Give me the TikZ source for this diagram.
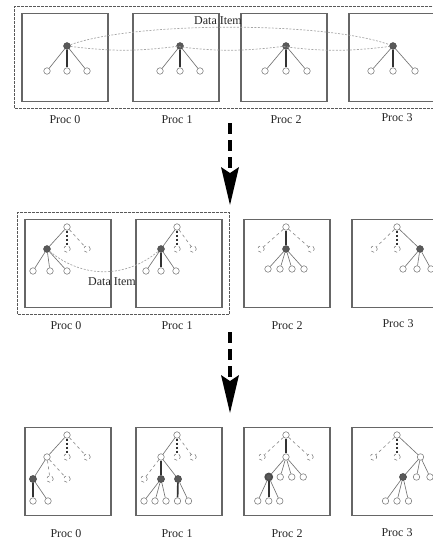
\documentclass[tikz,border=0pt]{standalone}
\usepackage{fontspec}
\setmainfont{Liberation Serif}
\usetikzlibrary{positioning,fit,arrows.meta}

\tikzset{
  procbox/.style={draw=black!60, line width=1.5pt,
    minimum width=86pt, minimum height=88pt, inner sep=0pt},
  itembox/.style={draw=black!65, line width=1.2pt, dash pattern=on 3pt off 1pt, inner sep=6.5pt},
  vtx/.style={circle, draw=black!50, fill=white, line width=0.6pt, minimum size=6.5pt, inner sep=0pt},
  ghost/.style={vtx, dashed},
  hub/.style={circle, draw=black!70, fill=black!65, minimum size=7pt, inner sep=0pt},
  edge from parent/.style={draw=black!55, line width=0.65pt},
  heavy/.style={draw=black!80, line width=1.7pt},
  tie/.style={draw=black!80, line width=1.7pt, dash pattern=on 2.5pt off 1.5pt},
  faint/.style={draw=black!45, dashed},
  link/.style={draw=black!35, line width=0.7pt, dash pattern=on 2pt off 1.5pt},
  caption/.style={font=\fontsize{12}{14}\selectfont, text=black!85, inner sep=0pt},
  movearrow/.style={draw=black, line width=4pt, dash pattern=on 11pt off 6pt,
    -{Stealth[length=38pt, width=18pt, inset=6pt, line width=0pt]}}
}

\begin{document}
\begin{tikzpicture}[x=1pt, y=-1pt]
\useasboundingbox (0,0) rectangle (433,541);
\clip (0,0) rectangle (433,541);

% first stage: one item spread over all procs
\node[procbox] (b10) at (65,57.5) {};
\node[procbox] (b11) at (176,57.5) {};
\node[procbox] (b12) at (284,57.5) {};
\node[procbox] (b13) at (392,57.5) {};
\node[itembox, fit=(b10)(b13)] (d1) {};
\node[caption, below=13pt of b10] (c10) {Proc 0};
\node[caption, below=13pt of b11, xshift=1pt] (c11) {Proc 1};
\node[caption, below=13pt of b12, xshift=2pt] (c12) {Proc 2};
\node[caption, below=11pt of b13, xshift=5pt] (c13) {Proc 3};

\node[hub] (r10) at (67,46) {} [level distance=25pt, sibling distance=20pt]
  child {node[vtx] {}}
  child {node[vtx] {} edge from parent[heavy]}
  child {node[vtx] {}};
\node[hub] (r11) at (180,46) {} [level distance=25pt, sibling distance=20pt]
  child {node[vtx] {}}
  child {node[vtx] {} edge from parent[heavy]}
  child {node[vtx] {}};
\node[hub] (r12) at (286,46) {} [level distance=25pt, sibling distance=21pt]
  child {node[vtx] {}}
  child {node[vtx] {} edge from parent[heavy]}
  child {node[vtx] {}};
\node[hub] (r13) at (393,46) {} [level distance=25pt, sibling distance=22pt]
  child {node[vtx] {}}
  child {node[vtx] {} edge from parent[heavy]}
  child {node[vtx] {}};

\draw[link] (r10) to[bend left=20, looseness=0.55] (r13);
\draw[link] (r10) to[bend right=7] (r11) to[bend right=7] (r12) to[bend right=7] (r13);
\node[caption] (t1) at (218,21) {Data Item};

\coordinate (s1) at (230,123);
\coordinate (e1) at (230,205);
\draw[movearrow] (s1) -- (e1);

% second stage
\node[procbox] (b20) at (68,263.5) {};
\node[procbox] (b21) at (179,263.5) {};
\node[procbox] (b22) at (287,263.5) {};
\node[procbox] (b23) at (395,263.5) {};
\node[itembox, fit=(b20)(b21)] (d2) {};
\node[caption, below=13pt of b20, xshift=-2pt] (c20) {Proc 0};
\node[caption, below=13pt of b21, xshift=-2pt] (c21) {Proc 1};
\node[caption, below=13pt of b22] (c22) {Proc 2};
\node[caption, below=11pt of b23, xshift=3pt] (c23) {Proc 3};

\node[vtx] (r20) at (67,227) {} [level distance=22pt, sibling distance=20pt,
    level 2/.style={sibling distance=17pt}]
  child {node[hub] {}
    child[xshift=3pt] {node[vtx] {}}
    child[xshift=3pt] {node[vtx] {}}
    child[xshift=3pt] {node[vtx] {}}}
  child {node[ghost] {} edge from parent[tie]}
  child {node[ghost] {} edge from parent[faint]};
\node[vtx] (r21) at (177,227) {} [level distance=22pt, sibling distance=16pt,
    level 2/.style={sibling distance=15pt}]
  child {node[hub] {}
    child {node[vtx] {}}
    child {node[vtx] {} edge from parent[heavy]}
    child {node[vtx] {}}}
  child {node[ghost] {} edge from parent[tie]}
  child {node[ghost] {} edge from parent[faint]};
\node[vtx] (r22) at (286,227) {} [level distance=22pt, sibling distance=25pt,
    level 2/.style={sibling distance=12pt, level distance=20pt}]
  child {node[ghost] {} edge from parent[faint]}
  child {node[hub] {}
    child {node[vtx] {}}
    child {node[vtx] {}}
    child {node[vtx] {}}
    child {node[vtx] {}}
    edge from parent[heavy]}
  child {node[ghost] {} edge from parent[faint]};
\node[vtx] (r23) at (397,227) {} [level distance=22pt, sibling distance=23pt,
    level 2/.style={sibling distance=14pt, level distance=20pt}]
  child {node[ghost] {} edge from parent[faint]}
  child {node[ghost] {} edge from parent[tie]}
  child {node[hub] {}
    child[xshift=-3pt] {node[vtx] {}}
    child[xshift=-3pt] {node[vtx] {}}
    child[xshift=-3pt] {node[vtx] {}}};

\draw[link] (r20-1) to[bend right=40] (r21-1);
\node[caption] (t2) at (112,282) {Data Item};

\coordinate (s2) at (230,332);
\coordinate (e2) at (230,413);
\draw[movearrow] (s2) -- (e2);

% third stage
\node[procbox] (b30) at (68,471.5) {};
\node[procbox] (b31) at (179,471.5) {};
\node[procbox] (b32) at (287,471.5) {};
\node[procbox] (b33) at (395,471.5) {};
\node[caption, below=13pt of b30, xshift=-2pt] (c30) {Proc 0};
\node[caption, below=13pt of b31, xshift=-2pt] (c31) {Proc 1};
\node[caption, below=13pt of b32] (c32) {Proc 2};
\node[caption, below=12pt of b33, xshift=2pt] (c33) {Proc 3};

\node[vtx] (r30) at (67,435) {} [level distance=22pt, sibling distance=20pt,
    level 2/.style={sibling distance=17pt}, level 3/.style={sibling distance=15pt}]
  child {node[vtx] {}
    child[xshift=3pt] {node[hub] {}
      child[xshift=7.5pt] {node[vtx] {} edge from parent[heavy]}
      child[xshift=7.5pt] {node[vtx] {}}}
    child[xshift=3pt] {node[ghost] {} edge from parent[faint]}
    child[xshift=3pt] {node[ghost] {} edge from parent[faint]}}
  child {node[ghost] {} edge from parent[tie]}
  child {node[ghost] {} edge from parent[faint]};
\node[vtx] (r31) at (177,435) {} [level distance=22pt, sibling distance=16pt,
    level 2/.style={sibling distance=17pt}, level 3/.style={sibling distance=11pt}]
  child {node[vtx] {}
    child {node[ghost] {} edge from parent[faint]}
    child {node[hub] {}
      child[xshift=-6pt] {node[vtx] {}}
      child[xshift=-6pt] {node[vtx] {}}
      child[xshift=-6pt] {node[vtx] {}}
      edge from parent[heavy]}
    child {node[hub] {}
      child[xshift=5pt] {node[vtx] {} edge from parent[heavy]}
      child[xshift=5pt] {node[vtx] {}}}}
  child {node[ghost] {} edge from parent[tie]}
  child {node[ghost] {} edge from parent[faint]};
\node[vtx] (r32) at (286,435) {} [level distance=22pt, sibling distance=24pt,
    level 2/.style={sibling distance=11.5pt, level distance=20pt},
    level 3/.style={sibling distance=11pt, level distance=24pt}]
  child {node[ghost] {} edge from parent[faint]}
  child {node[vtx] {}
    child {node[hub] {}
      child {node[vtx] {}}
      child {node[vtx] {} edge from parent[heavy]}
      child {node[vtx] {}}}
    child {node[vtx] {}}
    child {node[vtx] {}}
    child {node[vtx] {}}
    edge from parent[heavy]}
  child {node[ghost] {} edge from parent[faint]};
\node[vtx] (r33) at (397,435) {} [level distance=22pt, sibling distance=23.5pt,
    level 2/.style={sibling distance=13.5pt, level distance=20pt},
    level 3/.style={sibling distance=11.5pt, level distance=24pt}]
  child {node[ghost] {} edge from parent[faint]}
  child {node[ghost] {} edge from parent[tie]}
  child {node[vtx] {}
    child[xshift=-4pt] {node[hub] {}
      child[xshift=-6pt] {node[vtx] {}}
      child[xshift=-6pt] {node[vtx] {}}
      child[xshift=-6pt] {node[vtx] {}}}
    child[xshift=-4pt] {node[vtx] {}}
    child[xshift=-4pt] {node[vtx] {}}};
\end{tikzpicture}
\end{document}
